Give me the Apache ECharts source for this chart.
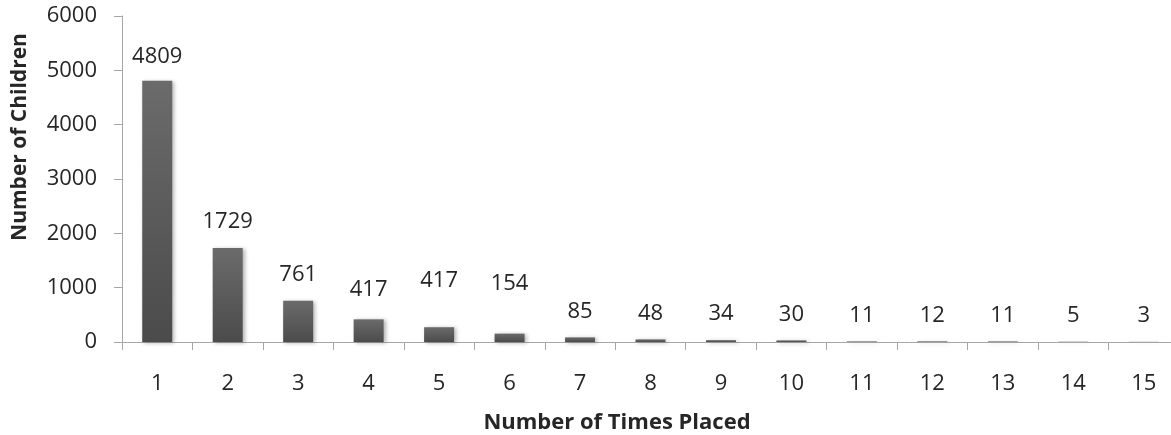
<!DOCTYPE html>
<html><head><meta charset="utf-8">
<script src="https://cdn.jsdelivr.net/npm/echarts@6/dist/echarts.min.js"></script>
<style>html,body{margin:0;padding:0;background:#fff}#c{width:1171px;height:435px}</style>
</head><body><div id="c"></div>
<script>
// ---- data ----
const categories = ['1','2','3','4','5','6','7','8','9','10','11','12','13','14','15'];
const barValues = [4809, 1729, 761, 417, 272, 154, 85, 48, 34, 30, 11, 12, 11, 5, 3];
const valueLabels = ['4809','1729','761','417','417','154','85','48','34','30','11','12','11','5','3'];
const yMin = 0, yMax = 6000, yStep = 1000;
const xTitle = 'Number of Times Placed';
const yTitle = 'Number of Children';

// ---- style (label lift per bar, px) ----
const labelLift = [-2, 0, 0, 4, 20, 24, 0, 0, 0, 0, 0, 0, 0, 0, 0];

const FONT = 'Open Sans';
const TXT = '#262626';
const AX = '#a6a6a6';

const chart = echarts.init(document.getElementById('c'), null, {renderer: 'canvas'});
chart.setOption({
  animation: false,
  backgroundColor: '#fff',
  textStyle: {fontFamily: FONT},
  grid: {left: 122, top: 16, width: 1057, height: 326, containLabel: false, outerBoundsMode: 'none'},
  xAxis: {
    type: 'category',
    data: categories,
    name: xTitle,
    nameLocation: 'middle',
    nameGap: 70,
    nameTextStyle: {fontFamily: FONT, fontSize: 22, fontWeight: 'bold', color: TXT, padding: [0, 67, 0, 0]},
    axisLine: {lineStyle: {color: AX, width: 1}},
    axisTick: {show: true, length: 8, lineStyle: {color: AX}},
    axisLabel: {fontFamily: FONT, fontSize: 22, color: TXT, margin: 31},
    splitLine: {show: false}
  },
  yAxis: {
    type: 'value',
    min: yMin, max: yMax, interval: yStep,
    name: yTitle,
    nameLocation: 'middle',
    nameGap: 91,
    nameTextStyle: {fontFamily: FONT, fontSize: 21, fontWeight: 'bold', color: TXT, padding: [0, 0, 0, 84]},
    axisLine: {show: true, lineStyle: {color: AX, width: 1}},
    axisTick: {show: true, length: 8, lineStyle: {color: AX}},
    axisLabel: {fontFamily: FONT, fontSize: 22, color: TXT, margin: 25, formatter: v => String(v)},
    splitLine: {show: false}
  },
  series: [{
    type: 'bar',
    barWidth: 30,
    data: barValues.map((v, i) => ({value: v, label: {distance: 15 + labelLift[i]}})),
    itemStyle: {
      color: new echarts.graphic.LinearGradient(0, 0, 0, 1, [
        {offset: 0, color: '#6b6b6b'},
        {offset: 1, color: '#4b4b4b'}
      ]),
      shadowBlur: 4,
      shadowOffsetX: 2,
      shadowOffsetY: 1,
      shadowColor: 'rgba(0,0,0,0.3)'
    },
    label: {
      show: true,
      position: 'top',
      fontFamily: FONT,
      fontSize: 22,
      color: TXT,
      formatter: p => valueLabels[p.dataIndex]
    }
  }]
});
</script>
</body></html>
